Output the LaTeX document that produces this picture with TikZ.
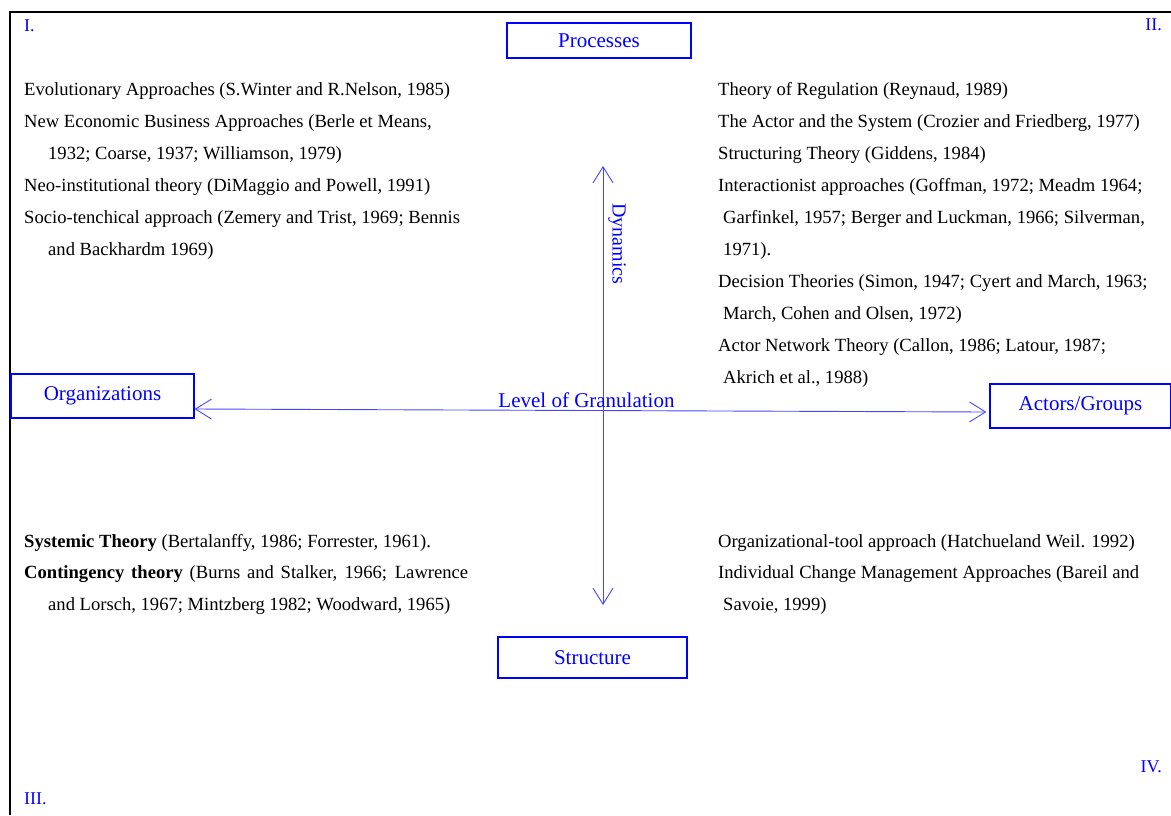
\documentclass[tikz,border=0pt]{standalone}
\usepackage{fontspec}
\setmainfont{Liberation Serif}
\usetikzlibrary{arrows.meta}
\definecolor{axisblue}{RGB}{70,70,255}

\begin{document}
\begin{tikzpicture}[x=1pt, y=-1pt,
    catbox/.style={draw=blue, line width=1.3pt, text=blue, inner sep=0pt, font=\fontsize{21}{25}\selectfont},
    quadnum/.style={text=blue, inner sep=0pt, font=\fontsize{18}{22}\selectfont},
    % base of a multi-line node = baseline of its last line
    theories/.style={align=left, inner sep=0pt, anchor=base west, font=\fontsize{18.6}{32}\selectfont},
    axis/.style={axisblue, line width=0.9pt, {Straight Barb[length=16pt,width=20pt]}-{Straight Barb[length=16pt,width=20pt]}}]

    \useasboundingbox (0,0) rectangle (1171,815);

    % frame
    \draw[line width=2pt] (1171,12) -- (10,12) -- (10,815);

    % quadrant numbers
    \node[quadnum, anchor=base west] (q1) at (24,31) {I.};
    \node[quadnum, anchor=base east] (q2) at (1162,30) {II.};
    \node[quadnum, anchor=base west] (q3) at (24,804) {III.};
    \node[quadnum, anchor=base east] (q4) at (1162,772) {IV.};

    % poles
    \node[catbox, minimum width=184pt, minimum height=35pt] (proc) at (599,40.5) {Processes};
    \node[catbox, minimum width=183pt, minimum height=44pt] (org) at (102.5,396) {Organizations};
    \node[catbox, minimum width=181pt, minimum height=44pt] (act) at (1080.5,406) {Actors/Groups};
    \node[catbox, minimum width=189pt, minimum height=41pt] (struc) at (592.5,657.5) {Structure};

    % dynamics axis
    \coordinate (dynTop) at (603,166);
    \coordinate (dynBot) at (603,605);
    \draw[axis] (dynTop) -- (dynBot);
    \node[text=blue, rotate=-90, inner sep=0pt, font=\fontsize{20}{24}\selectfont] (dyn) at (617,244) {Dynamics};

    % granulation axis
    \draw[axis] ([yshift=-13pt]org.east) -- ([xshift=-3pt,yshift=-6pt]act.west);
    \node[text=blue, anchor=base, inner sep=0pt, font=\fontsize{21}{25}\selectfont] (gran) at (586.5,407) {Level of Granulation};

    % I.
    \node[theories] (t1) at (24,255.5) {Evolutionary Approaches (S.Winter and R.Nelson, 1985)\\
        New Economic Business Approaches (Berle et Means,\\
        \hspace*{24pt}1932; Coarse, 1937; Williamson, 1979)\\
        Neo-institutional theory (DiMaggio and Powell, 1991)\\
        Socio-tenchical approach (Zemery and Trist, 1969; Bennis\\
        \hspace*{24pt}and Backhardm 1969)};

    % II.
    \node[theories] (t2) at (718,383.5) {Theory of Regulation (Reynaud, 1989)\\
        The Actor and the System (Crozier and Friedberg, 1977)\\
        Structuring Theory (Giddens, 1984)\\
        Interactionist approaches (Goffman, 1972; Meadm 1964;\\
        \hspace*{5pt}Garfinkel, 1957; Berger and Luckman, 1966; Silverman,\\
        \hspace*{5pt}1971).\\
        Decision Theories (Simon, 1947; Cyert and March, 1963;\\
        \hspace*{5pt}March, Cohen and Olsen, 1972)\\
        Actor Network Theory (Callon, 1986; Latour, 1987;\\
        \hspace*{5pt}Akrich et al., 1988)};

    % III.
    \node[theories, font=\fontsize{18.6}{31.5}\selectfont] (t3) at (24,610) {\textbf{Systemic Theory} (Bertalanffy, 1986; Forrester, 1961).\\
        \makebox[444pt][s]{\textbf{Contingency theory} (Burns and Stalker, 1966; Lawrence}\\
        \hspace*{24pt}and Lorsch, 1967; Mintzberg 1982; Woodward, 1965)};

    % IV.
    \node[theories, font=\fontsize{18.6}{31.5}\selectfont] (t4) at (718,610) {Organizational-tool approach (Hatchueland Weil. 1992)\\
        Individual Change Management Approaches (Bareil and\\
        \hspace*{5pt}Savoie, 1999)};
\end{tikzpicture}
\end{document}
